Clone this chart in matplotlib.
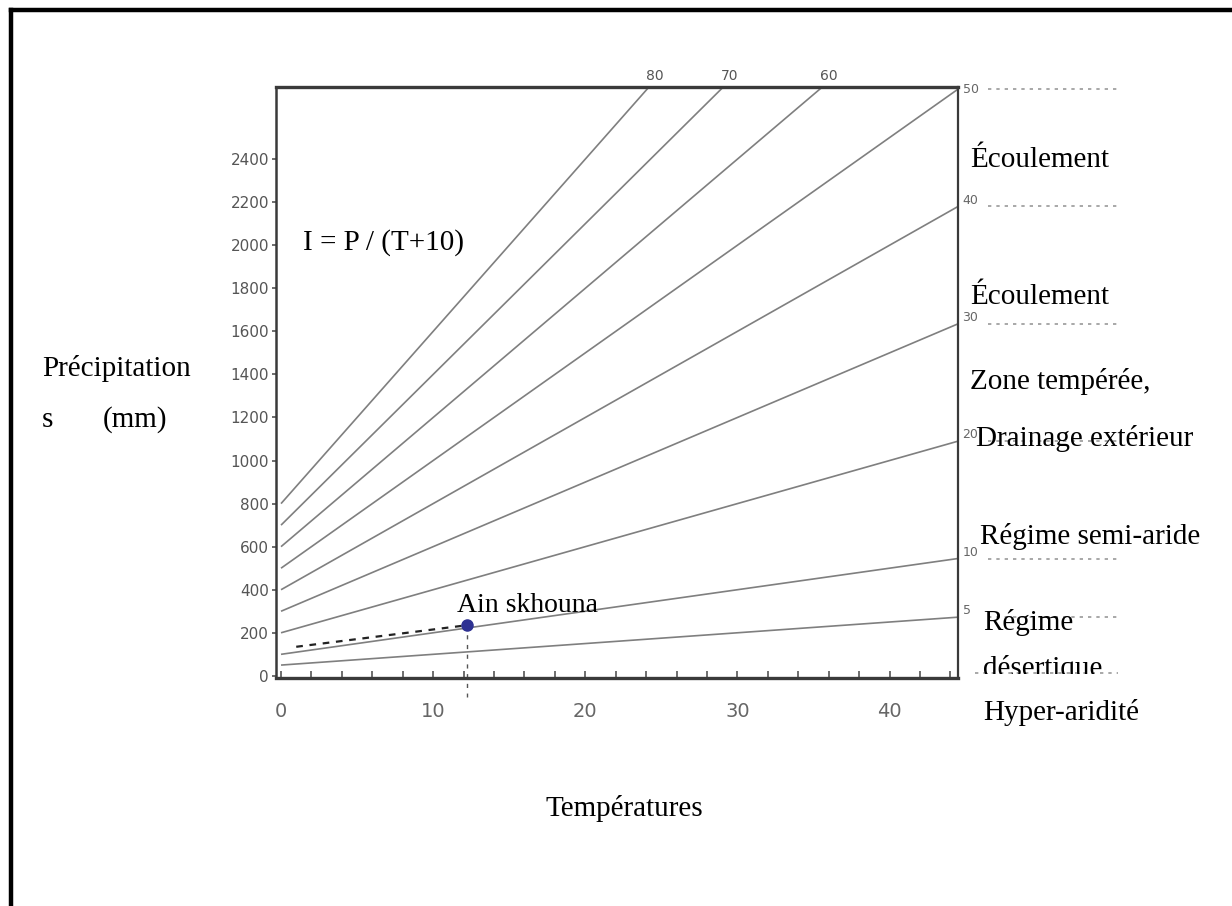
import numpy as np
import matplotlib.pyplot as plt
from matplotlib.lines import Line2D
from matplotlib.transforms import Bbox

# De Martonne aridity index lines I = P / (T + 10)
indices = [5, 10, 20, 30, 40, 50, 60, 70, 80]
right_labels = [5, 10, 20, 30, 40, 50]      # numbered at the right edge
top_labels = [60, 70, 80]                   # numbered along the top edge
t_max = 44.5
p_top = 2735

# station
station_name = 'Ain skhouna'
station_t = 12.2
station_p = 235
guide_start = (1.0, 135)

y_ticks = list(range(0, 2401, 200))
x_major = [0, 10, 20, 30, 40]
x_minor = list(range(0, 45, 2))

W, H = 1232, 906
fig = plt.figure(figsize=(W / 100, H / 100), dpi=100, facecolor='white')

def fx(px):
    return px / W

def fy(py):
    return 1 - py / H

ax = fig.add_axes([fx(276), fy(678), fx(958) - fx(276), fy(87) - fy(678)])
ax.set_xlim(-0.33, t_max)
ax.set_ylim(-10, p_top)

# index lines
T = np.array([0.0, t_max])
for I in indices:
    ax.plot(T, I * (T + 10), color='#7f7f7f', lw=1.2, solid_capstyle='butt')

# station marker and dashed guides
ax.plot([guide_start[0], station_t], [guide_start[1], station_p], color='#222222',
        lw=1.6, ls=(0, (3, 3)))
ax.plot([station_t, station_t], [station_p, -100], color='#555555', lw=1.0,
        ls=(0, (3, 4)), clip_on=False)
ax.plot([station_t], [station_p], 'o', color='#2e3192', ms=8, zorder=5)
ax.text(station_t - 0.6, station_p + 35, station_name, family='Liberation Serif',
        fontsize=20, color='black', va='bottom', ha='left')

# numbers at the right edge + dotted guides to the outside
for I in right_labels:
    p = I * (t_max + 10)
    ax.text(t_max + 0.3, min(p, p_top - 40) + 30, str(I), fontsize=9, color='#666666',
            va='center', ha='left', clip_on=False)
    ax.plot([46.5, 55.2], [p, p], color='#9a9a9a', lw=1.2, ls=(0, (2, 3)),
            clip_on=False)
ax.plot([45.6, 55.0], [15, 15], color='#9a9a9a', lw=1.2, ls=(0, (2, 3)),
        clip_on=False)

# numbers at the top edge
for I in top_labels:
    t_cross = p_top / I - 10
    ax.text(t_cross + 0.4, p_top + 20, str(I), fontsize=10, color='#555555',
            va='bottom', ha='center', clip_on=False)

# axes styling
for side, lw in [('top', 2.4), ('bottom', 2.4), ('left', 1.8), ('right', 1.6)]:
    ax.spines[side].set_linewidth(lw)
    ax.spines[side].set_color('#3a3a3a')

ax.set_yticks(y_ticks)
ax.set_yticklabels([str(v) for v in y_ticks])
ax.tick_params(axis='y', direction='out', length=3, width=1.2, pad=2,
               labelsize=11, labelcolor='#555555', color='#555555')
ax.set_xticks(x_major)
ax.set_xticks(x_minor, minor=True)
ax.tick_params(axis='x', which='both', direction='in', length=5, width=1.2,
               color='#555555')
ax.tick_params(axis='x', which='major', pad=17, labelsize=14, labelcolor='#666666')

# formula
ax.text(fx(303), fy(243), 'I = P / (T+10)', transform=fig.transFigure,
        family='Liberation Serif', fontsize=21, va='center', ha='left')

# axis titles
serif = dict(family='Liberation Serif', fontsize=21, color='black', va='center', ha='left')
fig.text(fx(42), fy(368), 'Précipitation', **serif)
fig.text(fx(42), fy(420), 's', **serif)
fig.text(fx(103), fy(420), '(mm)', **serif)
fig.text(fx(545), fy(808), 'Températures', **serif)

# zone labels on the right
fig.text(fx(970), fy(160), 'Écoulement', **serif)
fig.text(fx(970), fy(297), 'Écoulement', **serif)
fig.text(fx(970), fy(382), 'Zone tempérée,', **serif)
fig.text(fx(976), fy(438), 'Drainage extérieur', **serif)
fig.text(fx(980), fy(537), 'Régime semi-aride', **serif)
fig.text(fx(983), fy(622), 'Régime', **serif)
cut = fig.text(fx(983), fy(669), 'désertique', **serif)
cut.set_clip_box(Bbox([[960, H - 674], [1232, H - 640]]))
cut.set_clip_on(True)
fig.text(fx(983), fy(713), 'Hyper-aridité', **serif)

# partial outer frame (top and left)
fig.add_artist(Line2D([fx(11), 1.0], [fy(10), fy(10)], color='black', lw=3.2,
                      solid_capstyle='projecting', transform=fig.transFigure))
fig.add_artist(Line2D([fx(11), fx(11)], [fy(10), 0.0], color='black', lw=3.2,
                      solid_capstyle='projecting', transform=fig.transFigure))

fig.savefig('out.png', dpi=100, facecolor='white')
